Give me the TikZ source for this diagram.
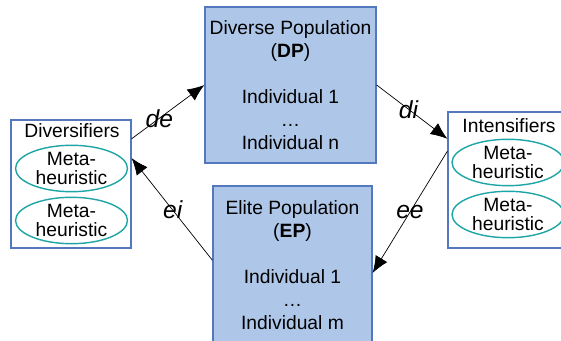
\documentclass[tikz,border=0pt]{standalone}
\usepackage{fontspec}
\setmainfont{Liberation Sans}
\usetikzlibrary{arrows.meta, calc, shapes.geometric}

\definecolor{popfill}{RGB}{174,198,232}
\definecolor{popline}{RGB}{84,120,190}
\definecolor{metaline}{RGB}{30,165,165}

\tikzset{
	pop/.style = {draw = popline, fill = popfill, line width = 0.9pt, align = center,
		font = \fontsize{13.7}{16.4}\selectfont},
	group/.style = {draw = popline, fill = white, line width = 0.9pt},
	title/.style = {anchor = base, font = \fontsize{13.7}{16}\selectfont},
	meta/.style = {ellipse, draw = metaline, line width = 1pt, inner sep = 0pt,
		minimum width = 2.8cm, minimum height = 1.16cm, align = center,
		font = \fontsize{13.7}{13.4}\selectfont},
	flow/.style = {->, line width = 0.5pt},
	tag/.style = {font = \fontsize{17.5}{20}\selectfont\itshape}
}

\begin{document}
\begin{tikzpicture}[> = {Latex[length=0.42cm, width=0.34cm]}]

	\useasboundingbox (0, 0) rectangle (14.025, -8.525);

	% Populations
	
	\node [pop, minimum width = 4.175cm, minimum height = 3.9cm] (dp) at (7.2625, -2.125)
		{Diverse Population\\(\textbf{DP})\\[16.4pt]Individual 1\\\dots\\Individual n};
	\node [pop, minimum width = 3.975cm, minimum height = 3.95cm] (ep) at (7.3125, -6.625)
		{Elite Population\\(\textbf{EP})\\[16.4pt]Individual 1\\\dots\\Individual m};
	
	% Diversifiers and intensifiers
	
	\node [group, minimum width = 3cm, minimum height = 3.2cm] (div) at (1.775, -4.6) {};
	\node [title] (divtitle) at (1.8, -3.45) {Diversifiers};
	\node [meta] (divA) at (1.7875, -4.2125) {Meta-\\heuristic};
	\node [meta] (divB) at (1.7875, -5.5125) {Meta-\\heuristic};
	
	\node [group, minimum width = 2.95cm, minimum height = 3.4cm] (int) at (12.675, -4.5) {};
	\node [title] (inttitle) at (12.725, -3.325) {Intensifiers};
	\node [meta] (intA) at (12.7, -4.0625) {Meta-\\heuristic};
	\node [meta] (intB) at (12.7, -5.3625) {Meta-\\heuristic};
	
	% Exchanges
	
	\draw [flow] ($(div.north east)!0.15!(div.south east)$) -- node [tag, pos = 0.38] {de} (dp.west);
	\draw [flow] (dp.east) -- node [tag, pos = 0.45] {di} ($(int.north west)!0.2!(int.south west)$);
	\draw [flow] ($(int.north west)!0.29!(int.south west)$) -- node [tag, pos = 0.5] {ee}
		($(ep.north east)!0.55!(ep.south east)$);
	\draw [flow] ($(ep.north west)!0.47!(ep.south west)$) -- node [tag, pos = 0.49] {ei}
		($(div.north east)!0.3!(div.south east)$);
	
\end{tikzpicture}
\end{document}
